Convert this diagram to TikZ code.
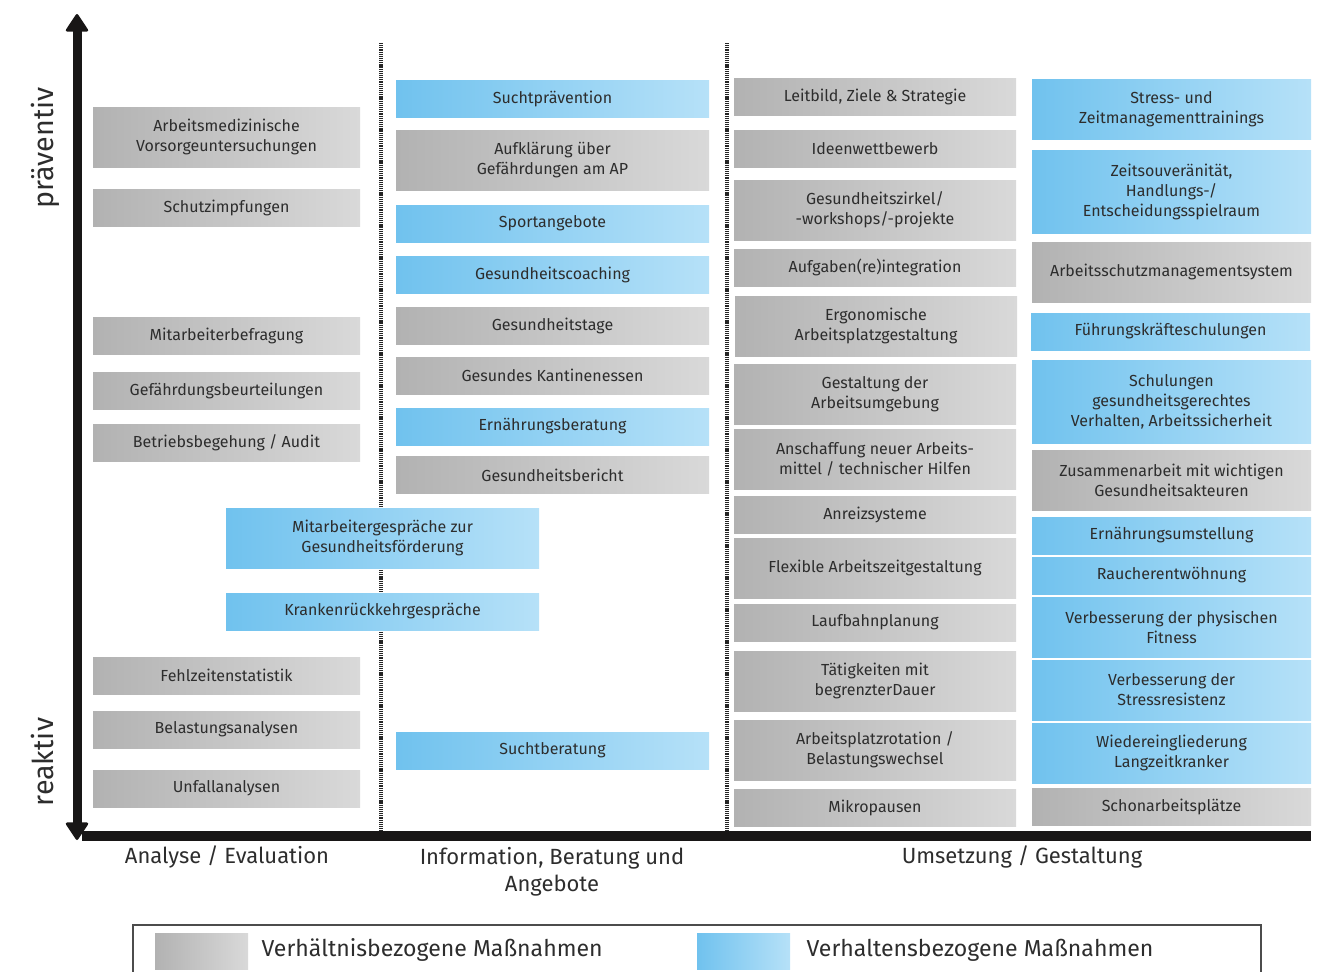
\documentclass[tikz,border=0pt]{standalone}
\usepackage{fontspec}
\setmainfont{Fira Sans}
\usepackage{tikz}
\usetikzlibrary{arrows.meta}

\definecolor{grauL}{RGB}{178,178,178}
\definecolor{grauR}{RGB}{217,217,217}
\definecolor{blauL}{RGB}{112,194,238}
\definecolor{blauR}{RGB}{182,225,248}
\definecolor{schrift}{RGB}{45,45,45}
\definecolor{achsenfarbe}{RGB}{24,22,22}

\tikzset{
    box/.style={rectangle, inner sep=0pt, align=center, text=schrift,
        font=\fontsize{12}{15}\selectfont},
    verhaeltnis/.style={box, left color=grauL, right color=grauR},
    verhalten/.style={box, left color=blauL, right color=blauR},
    h1/.style={minimum height=27.75pt},
    h2/.style={minimum height=45pt},
    h3/.style={minimum height=62.25pt},
    spA/.style={minimum width=200.25pt},
    spB/.style={minimum width=234.75pt},
    spC/.style={minimum width=211.5pt},
    spD/.style={minimum width=209.25pt},
    achsentext/.style={text=schrift, align=center, font=\fontsize{16.5}{20}\selectfont},
    legendentext/.style={text=schrift, font=\fontsize{17.3}{20}\selectfont},
    richtung/.style={text=schrift, rotate=90, font=\fontsize{21.5}{24}\selectfont},
    trenner/.style={line width=2.4pt, dash pattern=on 0.9pt off 0.7pt, color=black!85},
    spitze/.tip={Triangle[round, length=14pt, width=18pt, line width=2pt]},
}

\begin{document}
\begin{tikzpicture}[x=0.75pt, y=-0.75pt]
    \useasboundingbox (0,0) rectangle (1319,971);

    % Trennlinien
    \coordinate (t1o) at (381,43);
    \coordinate (t1u) at (381,833);
    \coordinate (t2o) at (727,43);
    \coordinate (t2u) at (727,833);
    \draw[trenner] (t1o) -- (t1u);
    \draw[trenner] (t2o) -- (t2u);

    % Analyse / Evaluation
    \node[verhaeltnis, spA, h2] (e1) at (226.5,137) {Arbeitsmedizinische\\Vorsorgeuntersuchungen};
    \node[verhaeltnis, spA, h1] (e2) at (226.5,207.5) {Schutzimpfungen};
    \node[verhaeltnis, spA, h1] (e3) at (226.5,336) {Mitarbeiterbefragung};
    \node[verhaeltnis, spA, h1] (e4) at (226.5,390.5) {Gefährdungsbeurteilungen};
    \node[verhaeltnis, spA, h1] (e5) at (226.5,442.5) {Betriebsbegehung / Audit};
    \node[verhaeltnis, spA, h1] (e6) at (226.5,675.5) {Fehlzeitenstatistik};
    \node[verhaeltnis, spA, h1] (e7) at (226.5,729.5) {Belastungsanalysen};
    \node[verhaeltnis, spA, h1] (e8) at (226.5,788.5) {Unfallanalysen};
    \node[verhalten, spB, h2] (m1) at (382.5,538) {Mitarbeitergespräche zur\\Gesundheitsförderung};
    \node[verhalten, spB, h1] (m2) at (382.5,611.5) {Krankenrückkehrgespräche};

    % Information, Beratung und Angebote
    \node[verhalten, spB, h1] (i1) at (552.5,98.5) {Suchtprävention};
    \node[verhaeltnis, spB, h2] (i2) at (552.5,160) {Aufklärung über\\Gefährdungen am AP};
    \node[verhalten, spB, h1] (i3) at (552.5,223.5) {Sportangebote};
    \node[verhalten, spB, h1] (i4) at (552.5,274.5) {Gesundheitscoaching};
    \node[verhaeltnis, spB, h1] (i5) at (552.5,325.5) {Gesundheitstage};
    \node[verhaeltnis, spB, h1] (i6) at (552.5,375.5) {Gesundes Kantinenessen};
    \node[verhalten, spB, h1] (i7) at (552.5,426.5) {Ernährungsberatung};
    \node[verhaeltnis, spB, h1] (i8) at (552.5,475) {Gesundheitsbericht};
    \node[verhalten, spB, h1] (i9) at (552.5,750.5) {Suchtberatung};

    % Umsetzung / Gestaltung, Spalte 1
    \node[verhaeltnis, spC, h1] (u1) at (875,96.5) {Leitbild, Ziele \& Strategie};
    \node[verhaeltnis, spC, h1] (u2) at (875,148.5) {Ideenwettbewerb};
    \node[verhaeltnis, spC, h2] (u3) at (875,210) {Gesundheitszirkel/\\-workshops/-projekte};
    \node[verhaeltnis, spC, h1] (u4) at (875,267.5) {Aufgaben(re)integration};
    \node[verhaeltnis, spC, h2] (u5) at (876,326) {Ergonomische\\Arbeitsplatzgestaltung};
    \node[verhaeltnis, spC, h2] (u6) at (875,394) {Gestaltung der\\Arbeitsumgebung};
    \node[verhaeltnis, spC, h2] (u7) at (875,459) {Anschaffung neuer Arbeits-\\mittel / technischer Hilfen};
    \node[verhaeltnis, spC, h1] (u8) at (875,514.5) {Anreizsysteme};
    \node[verhaeltnis, spC, h2] (u9) at (875,568) {Flexible Arbeitszeitgestaltung};
    \node[verhaeltnis, spC, h1] (u10) at (875,622.5) {Laufbahnplanung};
    \node[verhaeltnis, spC, h2] (u11) at (875,681) {Tätigkeiten mit\\begrenzterDauer};
    \node[verhaeltnis, spC, h2] (u12) at (875,750) {Arbeitsplatzrotation /\\Belastungswechsel};
    \node[verhaeltnis, spC, h1] (u13) at (875,808) {Mikropausen};

    % Umsetzung / Gestaltung, Spalte 2
    \node[verhalten, spD, h2] (g1) at (1171.5,109) {Stress- und\\Zeitmanagementtrainings};
    \node[verhalten, spD, h3] (g2) at (1171.5,191.5) {Zeitsouveränität,\\Handlungs-/\\Entscheidungsspielraum};
    \node[verhaeltnis, spD, h2] (g3) at (1171.5,272) {Arbeitsschutzmanagementsystem};
    \node[verhalten, spD, h1] (g4) at (1170.5,331.5) {Führungskräfteschulungen};
    \node[verhalten, spD, h3] (g5) at (1171.5,402) {Schulungen\\gesundheitsgerechtes\\Verhalten, Arbeitssicherheit};
    \node[verhaeltnis, spD, h2] (g6) at (1171.5,480) {Zusammenarbeit mit wichtigen\\Gesundheitsakteuren};
    \node[verhalten, spD, h1] (g7) at (1171.5,535.5) {Ernährungsumstellung};
    \node[verhalten, spD, h1] (g8) at (1171.5,575.5) {Raucherentwöhnung};
    \node[verhalten, spD, h2] (g9) at (1171.5,627) {Verbesserung der physischen\\Fitness};
    \node[verhalten, spD, h2] (g10) at (1171.5,690) {Verbesserung der\\Stressresistenz};
    \node[verhalten, spD, h2] (g11) at (1171.5,753) {Wiedereingliederung\\Langzeitkranker};
    \node[verhaeltnis, spD, h1] (g12) at (1171.5,806.5) {Schonarbeitsplätze};

    % Achsen
    \coordinate (oben) at (77,14);
    \coordinate (unten) at (77,840);
    \coordinate (links) at (82,835.5);
    \coordinate (rechts) at (1311,835.5);
    \draw[line width=7.5pt, achsenfarbe] (links) -- (rechts);
    \draw[line width=6.75pt, achsenfarbe, spitze-spitze] (oben) -- (unten);

    \node[richtung] (praev) at (45,148) {präventiv};
    \node[richtung] (reakt) at (42,762) {reaktiv};

    \node[achsentext] (ana) at (227,857) {Analyse / Evaluation};
    \node[achsentext, anchor=north] (info) at (552,843) {Information, Beratung und\\Angebote};
    \node[achsentext] (ums) at (1022,857) {Umsetzung / Gestaltung};

    % Legende
    \coordinate (lo) at (133,925);
    \coordinate (lu) at (1261,985);
    \draw[black!70, line width=0.8pt] (lo) rectangle (lu);
    \node[verhaeltnis, minimum width=69.75pt, minimum height=27pt] (lg1) at (201.5,951) {};
    \node[legendentext, anchor=west] (lt1) at (257,950) {Verhältnisbezogene Maßnahmen};
    \node[verhalten, minimum width=69.75pt, minimum height=27pt] (lg2) at (743.5,951) {};
    \node[legendentext, anchor=west] (lt2) at (802,950) {Verhaltensbezogene Maßnahmen};
\end{tikzpicture}
\end{document}
